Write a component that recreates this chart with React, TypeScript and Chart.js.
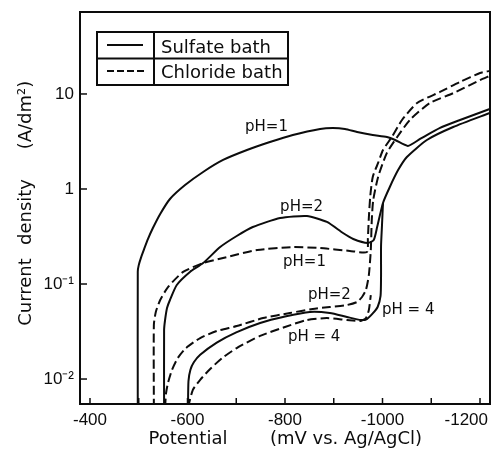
import React, { useEffect, useRef } from "react";
import { Chart, registerables } from "chart.js";

Chart.register(...registerables);

// ---------- axes ----------
const xMin = -1220.5;
const xMax = -379.5;
const yMin = 0.00546;
const yMax = 72.9;
const xTickValues = [-400, -600, -800, -1000, -1200];
const xTickLabels = ["-400", "-600", "-800", "-1000", "-1200"];
const xMinorTickValues = [-400, -500, -600, -700, -800, -900, -1000, -1100, -1200];
const yTickValues = [0.01, 0.1, 1, 10];
const yTickLabels = ["10⁻²", "10⁻¹", "1", "10"];
const xTitleParts = ["Potential", "(mV vs. Ag/AgCl)"];
const yTitleParts = ["Current", "density", "(A/dm²)"];
const legendLabels = ["Sulfate bath", "Chloride bath"];

// ---------- series (mV vs. Ag/AgCl, A/dm²) ----------
const sulfatePH1X = [-498, -498, -500, -505, -511, -519, -529, -544, -564, -595, -632, -673, -722, -769, -816, -872, -898, -923, -948, -980, -1009, -1026, -1052, -1077, -1118, -1159, -1220];
const sulfatePH1Y = [0.005, 0.135, 0.158, 0.192, 0.233, 0.298, 0.388, 0.546, 0.785, 1.1, 1.51, 2.02, 2.57, 3.12, 3.7, 4.29, 4.39, 4.29, 3.98, 3.7, 3.52, 3.28, 2.84, 3.36, 4.39, 5.32, 6.95];

const sulfatePH2X = [-552, -552, -554, -558, -564, -578, -605, -632, -667, -701, -734, -790, -845, -886, -919, -940, -970, -982, -989, -1001, -1015, -1032, -1050, -1091, -1145, -1220];
const sulfatePH2Y = [0.005, 0.0328, 0.0418, 0.0559, 0.0679, 0.0976, 0.134, 0.166, 0.245, 0.32, 0.398, 0.495, 0.52, 0.45, 0.344, 0.298, 0.27, 0.29, 0.398, 0.713, 1.05, 1.58, 2.17, 3.28, 4.49, 6.31];

const sulfatePH4X = [-601, -602, -606, -613, -626, -660, -700, -749, -800, -851, -892, -927, -956, -968, -980, -990, -996, -997, -997, -999, -1001];
const sulfatePH4Y = [0.005, 0.0095, 0.0125, 0.015, 0.018, 0.0242, 0.031, 0.0389, 0.0455, 0.0508, 0.0495, 0.045, 0.0418, 0.0428, 0.049, 0.0573, 0.075, 0.12, 0.25, 0.42, 0.713];

const chloridePH1X = [-531, -531, -535, -544, -560, -591, -632, -673, -743, -816, -872, -933, -968, -970, -972, -975, -980, -991, -1001, -1019, -1040, -1071, -1118, -1159, -1200, -1220];
const chloridePH1Y = [0.005, 0.037, 0.0508, 0.0679, 0.0929, 0.134, 0.166, 0.188, 0.228, 0.245, 0.239, 0.223, 0.217, 0.3, 0.5, 0.85, 1.34, 1.88, 2.57, 3.52, 5.32, 8.04, 10.5, 13.4, 16.6, 17.5];

const chloridePH2X = [-554, -556, -560, -568, -580, -597, -626, -660, -701, -755, -810, -857, -892, -927, -948, -958, -966, -972, -976, -978, -981, -991, -1009, -1030, -1056, -1097, -1145, -1200, -1220];
const chloridePH2Y = [0.005, 0.0071, 0.0091, 0.0124, 0.0166, 0.0212, 0.027, 0.032, 0.0361, 0.0438, 0.0495, 0.0546, 0.0573, 0.0601, 0.0647, 0.073, 0.0865, 0.124, 0.228, 0.472, 0.766, 1.34, 2.4, 3.52, 5.32, 8.04, 10.2, 14.0, 15.5];

const chloridePH4X = [-601, -611, -626, -646, -671, -701, -749, -800, -845, -886, -927, -954, -966, -972, -976];
const chloridePH4Y = [0.005, 0.0077, 0.0098, 0.0127, 0.0166, 0.0212, 0.0284, 0.0353, 0.0418, 0.0438, 0.0418, 0.0408, 0.0438, 0.0533, 0.0766];

// ---------- curve labels (anchored in data units: left end of text, baseline) ----------
const annotLabels = ["pH=1", "pH=2", "pH=1", "pH=2", "pH = 4", "pH = 4"];
const annotX = [-718, -790, -796, -847, -806, -999];
const annotY = [4.08, 0.587, 0.1547, 0.0695, 0.0251, 0.0483];

const ink = "#0c0c0c";
const dash = [9, 4];
const titleFont = "18px 'DejaVu Sans', sans-serif";
const tickFont = "17px 'Liberation Sans', Arial, sans-serif";

const toPoints = (xs: number[], ys: number[]) => xs.map((x, i) => ({ x, y: ys[i] }));

const overlayPlugin = {
  id: "overlay",
  afterDraw(chart: any) {
    const { ctx, chartArea: a, scales } = chart;
    const xs = scales.x;
    const ys = scales.y;
    ctx.save();
    ctx.strokeStyle = ink;
    ctx.fillStyle = ink;
    ctx.setLineDash([]);

    // frame
    ctx.lineWidth = 2;
    ctx.strokeRect(a.left, a.top, a.right - a.left, a.bottom - a.top);

    // inward ticks
    ctx.lineWidth = 1.5;
    xMinorTickValues.forEach((v) => {
      const px = xs.getPixelForValue(v);
      ctx.beginPath();
      ctx.moveTo(px, a.bottom);
      ctx.lineTo(px, a.bottom - 6);
      ctx.stroke();
    });
    yTickValues.forEach((v) => {
      const py = ys.getPixelForValue(v);
      ctx.beginPath();
      ctx.moveTo(a.left, py);
      ctx.lineTo(a.left + 7, py);
      ctx.stroke();
    });

    // x tick labels
    ctx.font = tickFont;
    ctx.textAlign = "center";
    ctx.textBaseline = "alphabetic";
    xTickValues.forEach((v, i) => {
      const px = xs.getPixelForValue(v);
      const w = ctx.measureText(xTickLabels[i]).width;
      const cx = Math.min(px, chart.width - 3 - w / 2);
      ctx.fillText(xTickLabels[i], cx, a.bottom + 21);
    });

    // axis titles
    ctx.font = titleFont;
    ctx.fillText(xTitleParts[0], a.left + 108, a.bottom + 40);
    ctx.fillText(xTitleParts[1], a.left + 266, a.bottom + 40);

    const yCenters = [a.top + 280, a.top + 200, a.top + 103];
    yTitleParts.forEach((t, i) => {
      ctx.save();
      ctx.translate(31, yCenters[i]);
      ctx.rotate(-Math.PI / 2);
      ctx.fillText(t, 0, 0);
      ctx.restore();
    });

    // legend box
    const lx = a.left + 17;
    const ly = a.top + 20;
    const lw = 191;
    const lh = 53;
    const div = 57;
    ctx.lineWidth = 2;
    ctx.strokeRect(lx, ly, lw, lh);
    ctx.beginPath();
    ctx.moveTo(lx, ly + lh / 2);
    ctx.lineTo(lx + lw, ly + lh / 2);
    ctx.moveTo(lx + div, ly);
    ctx.lineTo(lx + div, ly + lh);
    ctx.stroke();
    ctx.beginPath();
    ctx.moveTo(lx + 10, ly + 13);
    ctx.lineTo(lx + 46, ly + 13);
    ctx.stroke();
    ctx.setLineDash([7, 3]);
    ctx.beginPath();
    ctx.moveTo(lx + 10, ly + 39);
    ctx.lineTo(lx + 48, ly + 39);
    ctx.stroke();
    ctx.setLineDash([]);
    ctx.textAlign = "left";
    ctx.fillText(legendLabels[0], lx + div + 7, ly + 21);
    ctx.fillText(legendLabels[1], lx + div + 7, ly + 46);

    // curve labels
    ctx.font = "15px 'DejaVu Sans', sans-serif";
    annotLabels.forEach((t, i) => {
      ctx.fillText(t, xs.getPixelForValue(annotX[i]), ys.getPixelForValue(annotY[i]));
    });

    ctx.restore();
  },
};

export default function App() {
  const canvasRef = useRef<HTMLCanvasElement | null>(null);

  useEffect(() => {
    if (!canvasRef.current) return;
    const solid = (label: string, xs: number[], ys: number[]) => ({
      label,
      data: toPoints(xs, ys),
      borderColor: ink,
      borderWidth: 2,
      pointRadius: 0,
      tension: 0.2,
      fill: false,
    });
    const dashed = (label: string, xs: number[], ys: number[]) => ({
      ...solid(label, xs, ys),
      borderDash: dash,
    });

    const chart = new Chart(canvasRef.current, {
      type: "line",
      data: {
        datasets: [
          solid("Sulfate bath pH=1", sulfatePH1X, sulfatePH1Y),
          solid("Sulfate bath pH=2", sulfatePH2X, sulfatePH2Y),
          solid("Sulfate bath pH=4", sulfatePH4X, sulfatePH4Y),
          dashed("Chloride bath pH=1", chloridePH1X, chloridePH1Y),
          dashed("Chloride bath pH=2", chloridePH2X, chloridePH2Y),
          dashed("Chloride bath pH=4", chloridePH4X, chloridePH4Y),
        ] as any,
      },
      options: {
        animation: false,
        responsive: false,
        maintainAspectRatio: false,
        devicePixelRatio: 1,
        layout: { padding: { top: 12, right: 1, left: 0, bottom: 0 } },
        plugins: { legend: { display: false }, tooltip: { enabled: false } },
        scales: {
          x: {
            type: "linear",
            min: xMin,
            max: xMax,
            reverse: true,
            grid: { display: false, drawTicks: false },
            border: { display: false },
            ticks: { display: false },
            afterFit: (s: any) => {
              s.height = 51;
              s.paddingLeft = 0;
              s.paddingRight = 0;
            },
          },
          y: {
            type: "logarithmic",
            min: yMin,
            max: yMax,
            grid: { display: false, drawTicks: false },
            border: { display: false },
            ticks: {
              color: ink,
              padding: 6,
              font: { family: "'Liberation Sans', Arial, sans-serif", size: 17 },
              callback: (value: any) => {
                const i = yTickValues.findIndex((t) => Math.abs(t - Number(value)) / t < 1e-6);
                return i >= 0 ? yTickLabels[i] : "";
              },
            },
            afterBuildTicks: (s: any) => {
              s.ticks = yTickValues.map((v) => ({ value: v }));
            },
            afterFit: (s: any) => {
              s.width = 80;
              s.paddingTop = 0;
              s.paddingBottom = 0;
            },
          },
        },
      } as any,
      plugins: [overlayPlugin],
    });
    return () => chart.destroy();
  }, []);

  return (
    <div style={{ position: "fixed", left: 0, top: 0, width: 491, height: 455, background: "#fff" }}>
      <canvas ref={canvasRef} width={491} height={455} style={{ display: "block" }} />
    </div>
  );
}
